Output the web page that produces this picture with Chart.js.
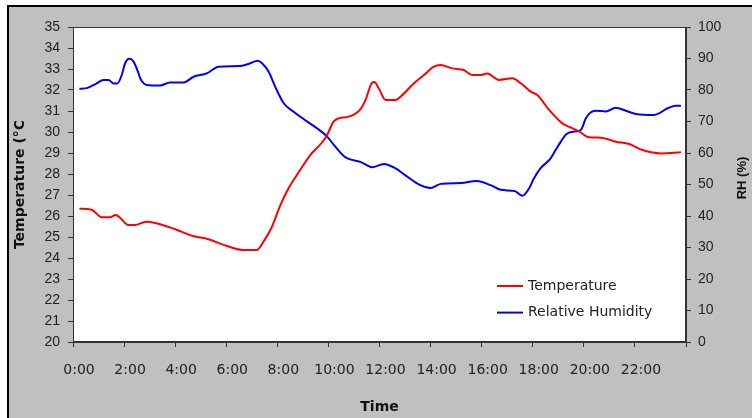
<!DOCTYPE html>
<html lang="en">
<head>
    <meta charset="UTF-8">
    <title>Temperature and Relative Humidity</title>
    <script src="https://cdn.jsdelivr.net/npm/chart.js"></script>
    <style>
        body { margin: 0; background: #fff; }
    </style>
</head>
<body>
    <canvas id="chart" width="752" height="418"></canvas>
    <script>
        // values (hours since midnight)
        const tempHours = [0.25, 0.73, 1.12, 1.45, 1.67, 1.84, 2.17, 2.43, 2.86, 3.22, 4.0, 4.78, 5.18, 6.03, 6.68, 7.2, 7.46, 7.79,
                           8.12, 8.44, 8.9, 9.29, 9.75, 9.95, 10.2, 10.4, 10.8, 11.25, 11.45, 11.71, 11.8, 11.97, 12.24, 12.63,
                           12.82, 13.35, 13.74, 14.13, 14.39, 14.85, 15.3, 15.64, 15.96, 16.22, 16.68, 17.2, 17.53, 17.92, 18.18,
                           18.64, 19.16, 19.5, 19.82, 20.2, 20.67, 21.25, 21.78, 22.3, 23.02, 23.8];
        const temperature = [26.35, 26.3, 25.94, 25.94, 26.05, 25.92, 25.57, 25.57, 25.73, 25.67, 25.37, 25.02, 24.94, 24.57, 24.38, 24.38, 24.78, 25.49,
                             26.52, 27.32, 28.2, 28.9, 29.5, 29.86, 30.49, 30.65, 30.73, 31.08, 31.52, 32.35, 32.38, 32.08, 31.52, 31.52,
                             31.68, 32.32, 32.71, 33.11, 33.19, 33.03, 32.95, 32.71, 32.71, 32.79, 32.48, 32.56, 32.32, 31.92, 31.76,
                             31.05, 30.41, 30.21, 30.02, 29.75, 29.73, 29.54, 29.43, 29.14, 28.98, 29.03];

        const rhHours = [0.25, 0.54, 0.93, 1.19, 1.39, 1.58, 1.74, 1.91, 2.04, 2.21, 2.37, 2.52, 2.65, 2.89, 3.41, 3.8, 4.33, 4.72,
                         5.24, 5.7, 6.55, 6.94, 7.23, 7.4, 7.66, 7.92, 8.25, 8.64, 8.9, 9.42, 9.95, 10.27, 10.67, 11.25, 11.71,
                         12.17, 12.63, 13.0, 13.6, 14.0, 14.4, 15.2, 15.8, 16.35, 16.75, 17.3, 17.6, 17.86, 18.05, 18.3, 18.7,
                         18.9, 19.1, 19.3, 19.63, 19.88, 20.08, 20.25, 20.47, 20.86, 21.25, 21.65, 22.04, 22.76, 23.28, 23.6, 23.8];
        const humidity = [80.4, 80.6, 82.1, 83.2, 83.2, 82.1, 82.1, 84.8, 88.5, 89.9, 89.0, 86.3, 83.4, 81.6, 81.4, 82.4, 82.4, 84.2,
                          85.3, 87.4, 87.6, 88.5, 89.3, 88.5, 85.8, 81.0, 75.8, 73.1, 71.5, 68.6, 65.2, 62.0, 58.6, 57.2, 55.5,
                          56.5, 55.1, 53.0, 49.8, 48.9, 50.2, 50.5, 51.1, 49.8, 48.3, 47.9, 46.4, 48.8, 52.0, 55.1, 58.3,
                          61.0, 63.6, 65.9, 66.8, 67.3, 71.0, 72.8, 73.4, 73.2, 74.4, 73.4, 72.4, 72.1, 74.2, 75.0, 75.0];

        const seriesNames = ['Temperature', 'Relative Humidity'];
        const seriesColors = ['#ff0000', '#0000ff'];

        const tempData = tempHours.map((h, i) => ({x: h, y: temperature[i]}));
        const rhData = rhHours.map((h, i) => ({x: h, y: humidity[i]}));

        const frame = {
            id: 'frame',
            beforeDraw(chart) {
                const c = chart.ctx, a = chart.chartArea;
                c.save();
                c.fillStyle = '#ffffff';
                c.fillRect(0, 0, chart.width, chart.height);
                c.fillStyle = '#c0c0c0';
                c.fillRect(9, 7, chart.width - 9, chart.height - 7);
                c.fillStyle = '#000000';
                c.fillRect(7, 5, chart.width - 7, 2);
                c.fillRect(7, 5, 2, chart.height - 5);
                c.fillStyle = '#ffffff';
                c.fillRect(a.left, a.top, a.right - a.left, a.bottom - a.top);
                c.restore();
            },
            afterDraw(chart) {
                const c = chart.ctx, a = chart.chartArea;
                c.save();
                c.strokeStyle = '#333333';
                c.lineWidth = 1;
                c.strokeRect(a.left + 0.5, a.top + 0.5, a.right - a.left - 1, a.bottom - a.top - 1);

                // legend inside the plot, lower right
                c.font = '14px "DejaVu Sans"';
                c.textBaseline = 'middle';
                chart.data.datasets.forEach((ds, i) => {
                    const y = a.bottom - 56 + i * 26.6;
                    c.strokeStyle = ds.borderColor;
                    c.lineWidth = 2;
                    c.beginPath();
                    c.moveTo(a.right - 189, y);
                    c.lineTo(a.right - 163, y);
                    c.stroke();
                    c.fillStyle = '#222222';
                    c.fillText(ds.label, a.right - 158, y);
                });

                // right axis title reads bottom to top
                c.translate(742, 178);
                c.rotate(-Math.PI / 2);
                c.font = 'bold 13px "Liberation Sans"';
                c.textAlign = 'center';
                c.fillStyle = '#111111';
                c.fillText('RH (%)', 0, 0);
                c.restore();
            }
        };

        new Chart(document.getElementById('chart').getContext('2d'), {
            type: 'line',
            data: {datasets: [{label           : seriesNames[0],
                               data            : tempData,
                               borderColor     : seriesColors[0],
                               borderWidth     : 2,
                               pointRadius     : 0,
                               cubicInterpolationMode: 'monotone',
                               yAxisID         : 'y'},
                              {label           : seriesNames[1],
                               data            : rhData,
                               borderColor     : seriesColors[1],
                               borderWidth     : 2,
                               pointRadius     : 0,
                               cubicInterpolationMode: 'monotone',
                               yAxisID         : 'y1'}]},
            options: {
                responsive: false,
                animation: false,
                layout: {padding: {left: 0, right: 0, top: 27, bottom: 0}},
                plugins: {legend: {display: false}, tooltip: {enabled: false}},
                scales: {
                    x: {type: 'linear', min: 0, max: 24,
                        afterFit: s => { s.height = 76; },
                        grid: {drawOnChartArea: false, tickLength: 5, color: '#333'},
                        border: {color: '#333'},
                        ticks: {stepSize: 2, autoSkip: false, maxRotation: 0, padding: 15, labelOffset: 6,
                                color: '#222', font: {family: '"DejaVu Sans"', size: 14},
                                callback: v => v < 24 ? v + ':00' : ''},
                        title: {display: true, text: 'Time', color: '#111',
                                font: {family: '"DejaVu Sans"', size: 14, weight: 'bold'},
                                padding: {top: 0, bottom: 2}}},
                    y: {position: 'left', min: 20, max: 35,
                        afterFit: s => { s.width = 73; },
                        grid: {drawOnChartArea: false, tickLength: 5, color: '#333'},
                        border: {color: '#333'},
                        ticks: {stepSize: 1, padding: 8, color: '#222',
                                font: {family: '"Liberation Sans"', size: 14}},
                        title: {display: true, text: 'Temperature (°C', color: '#111',
                                font: {family: '"DejaVu Sans"', size: 14, weight: 'bold'},
                                padding: {top: 12, bottom: 0}}},
                    y1: {position: 'right', min: 0, max: 100,
                         afterFit: s => { s.width = 66; },
                         grid: {drawOnChartArea: false, tickLength: 5, color: '#333'},
                         border: {color: '#333'},
                         ticks: {stepSize: 10, padding: 7, color: '#222',
                                 font: {family: '"Liberation Sans"', size: 14}}}
                }
            },
            plugins: [frame]
        });
    </script>
</body>
</html>
